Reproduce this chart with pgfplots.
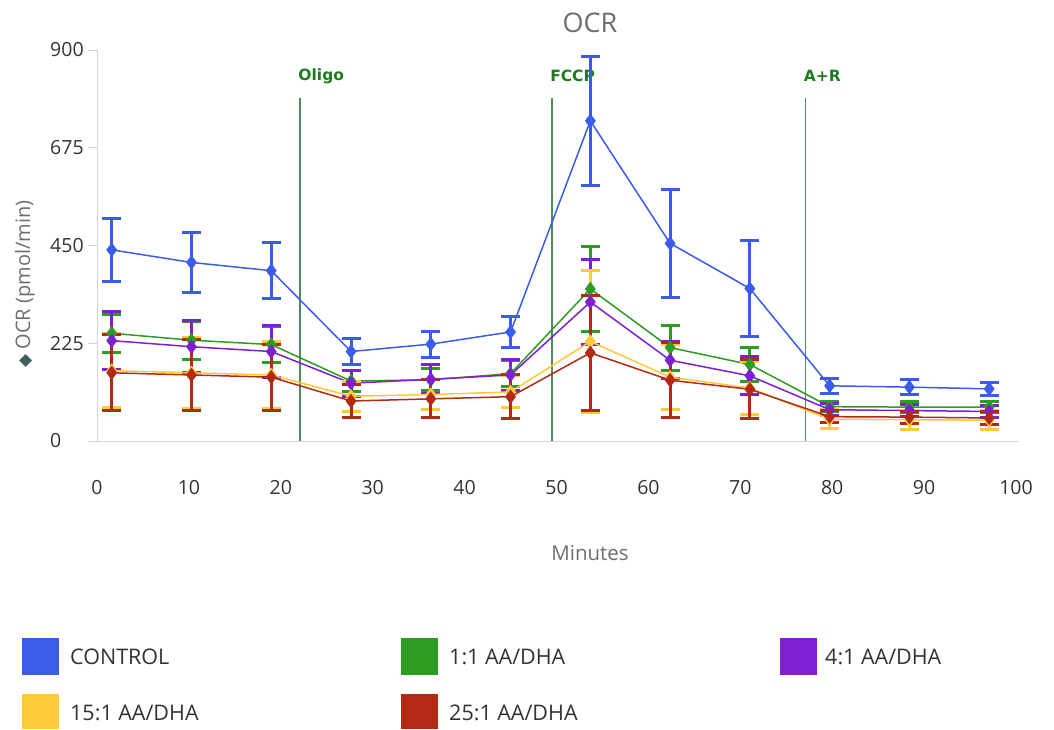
\documentclass[border=0pt]{standalone}
\usepackage{pgfplots}
\pgfplotsset{compat=1.18}
\usepackage{pgfplotstable}
\usepackage{fontspec}
\setmainfont{Open Sans}
\newfontfamily\dejavu{DejaVu Sans}
\definecolor{cblue}{HTML}{3B5BEB}
\definecolor{cgreen}{HTML}{2E9C22}
\definecolor{cpurple}{HTML}{7E1FD1}
\definecolor{cyellow}{HTML}{FFC93C}
\definecolor{cred}{HTML}{B22A14}
\definecolor{vline}{HTML}{4E8A5C}
\definecolor{vlab}{HTML}{1E7B1E}
\definecolor{titlegray}{HTML}{6E6E6E}
\definecolor{tickc}{HTML}{333333}
\definecolor{axisgray}{HTML}{D4D4D4}

\pgfplotstableread{
x y e
1.6 440 72
10.28 411 69
18.96 392 64
27.64 206 30
36.32 223 30
45.0 251 35
53.68 737 148
62.36 455 124
71.04 351 111
79.72 127 17
88.4 124 17
97.08 120 15
}\control
\pgfplotstableread{
x y e
1.6 248 44
10.28 232 44
18.96 222 42
27.64 138 25
36.32 141 25
45.0 155 30
53.68 350 97
62.36 215 52
71.04 176 40
79.72 79 12
88.4 78 12
97.08 78 12
}\oneone
\pgfplotstableread{
x y e
1.6 231 67
10.28 217 60
18.96 206 59
27.64 133 30
36.32 142 33
45.0 152 36
53.68 320 97
62.36 186 42
71.04 150 44
79.72 72 14
88.4 70 14
97.08 68 14
}\fourone
\pgfplotstableread{
x y e
1.6 162 85
10.28 157 82
18.96 152 78
27.64 103 34
36.32 107 35
45.0 113 37
53.68 229 163
62.36 147 75
71.04 122 62
79.72 50 22
88.4 49 22
97.08 48 22
}\fifteenone
\pgfplotstableread{
x y e
1.6 157 87
10.28 152 81
18.96 147 76
27.64 92 38
36.32 97 44
45.0 102 51
53.68 203 132
62.36 140 86
71.04 119 68
79.72 56 14
88.4 55 14
97.08 53 14
}\twentyfiveone

\begin{document}
\begin{tikzpicture}[x=1pt,y=1pt]
\useasboundingbox (0,0) rectangle (1054,729);
\begin{axis}[
  at={(97pt,288pt)}, anchor=south west,
  scale only axis, width=919pt, height=391pt,
  xmin=0, xmax=100, ymin=0, ymax=900,
  clip=false,
  axis lines*=left,
  x axis line style={draw=none},
  y axis line style={draw=axisgray, line width=1pt},
  xtick={0,10,...,100},
  ytick={0,225,450,675,900},
  tick align=outside,
  major tick length=9pt,
  ytick style={draw=axisgray, line width=1pt},
  xtick style={draw=none},
  /pgf/number format/assume math mode=true,
  ticklabel style={font=\fontsize{19.5}{22}\selectfont, text=tickc, inner sep=0pt},
  yticklabel style={anchor=west, xshift=-38pt},
  xticklabel style={anchor=north, yshift=-30pt},
  every axis plot/.append style={line width=1.5pt},
  error bars/y dir=both,
  error bars/y explicit,
  error bars/error bar style={line width=3pt},
  error bars/error mark options={rotate=90, mark size=9.5pt, line width=3pt},
]
\draw[axisgray, line width=1pt] (axis cs:-1,0) -- (axis cs:100.2,0);
\draw[vline, line width=1.8pt] (axis cs:22.1,0) -- (axis cs:22.1,790);
\draw[vline, line width=1.8pt] (axis cs:49.5,0) -- (axis cs:49.5,790);
\draw[vline, line width=1.8pt] (axis cs:77.1,0) -- (axis cs:77.1,790);
\node[anchor=west, inner sep=0pt, text=vlab, font=\dejavu\fontsize{15.5}{18}\selectfont\bfseries] at (axis cs:21.9,840) {Oligo};
\node[anchor=west, inner sep=0pt, text=vlab, font=\dejavu\fontsize{15.5}{18}\selectfont\bfseries] at (axis cs:49.3,840) {FCCP};
\node[anchor=west, inner sep=0pt, text=vlab, font=\dejavu\fontsize{15.5}{18}\selectfont\bfseries] at (axis cs:76.9,840) {A+R};

\addplot[color=cblue, mark=diamond*, mark size=6pt, mark options={fill=cblue}] table[x=x, y=y, y error=e] {\control};
\addplot[color=cgreen, mark=diamond*, mark size=6pt, mark options={fill=cgreen}] table[x=x, y=y, y error=e] {\oneone};
\addplot[color=cpurple, mark=diamond*, mark size=6pt, mark options={fill=cpurple}] table[x=x, y=y, y error=e] {\fourone};
\addplot[color=cyellow, mark=diamond*, mark size=6pt, mark options={fill=cyellow}] table[x=x, y=y, y error=e] {\fifteenone};
\addplot[color=cred, mark=diamond*, mark size=6pt, mark options={fill=cred}] table[x=x, y=y, y error=e] {\twentyfiveone};
\end{axis}

\node[text=titlegray, font=\fontsize{27}{30}\selectfont] at (590,706) {OCR};
\node[text=titlegray, font=\fontsize{20.5}{23}\selectfont] at (590,176) {Minutes};
\node[rotate=90, text=titlegray, font=\fontsize{20}{23}\selectfont] at (25,445) {{\dejavu\color[HTML]{3F5F5F}\fontsize{17}{19}\selectfont ◆}\ OCR (pmol/min)};

\fill[cblue] (22,54) rectangle (59,91);
\node[anchor=west, inner sep=0pt, text=tickc, font=\fontsize{21.5}{24}\selectfont] at (70,72) {CONTROL};
\fill[cgreen] (401,54) rectangle (438,91);
\node[anchor=west, inner sep=0pt, text=tickc, font=\fontsize{21.5}{24}\selectfont] at (449,72) {1:1 AA/DHA};
\fill[cpurple] (780,54) rectangle (817,91);
\node[anchor=west, inner sep=0pt, text=tickc, font=\fontsize{21.5}{24}\selectfont] at (825,72) {4:1 AA/DHA};
\fill[cyellow] (22,0) rectangle (59,35);
\node[anchor=west, inner sep=0pt, text=tickc, font=\fontsize{21.5}{24}\selectfont] at (70,16) {15:1 AA/DHA};
\fill[cred] (401,0) rectangle (438,35);
\node[anchor=west, inner sep=0pt, text=tickc, font=\fontsize{21.5}{24}\selectfont] at (449,16) {25:1 AA/DHA};
\end{tikzpicture}
\end{document}
